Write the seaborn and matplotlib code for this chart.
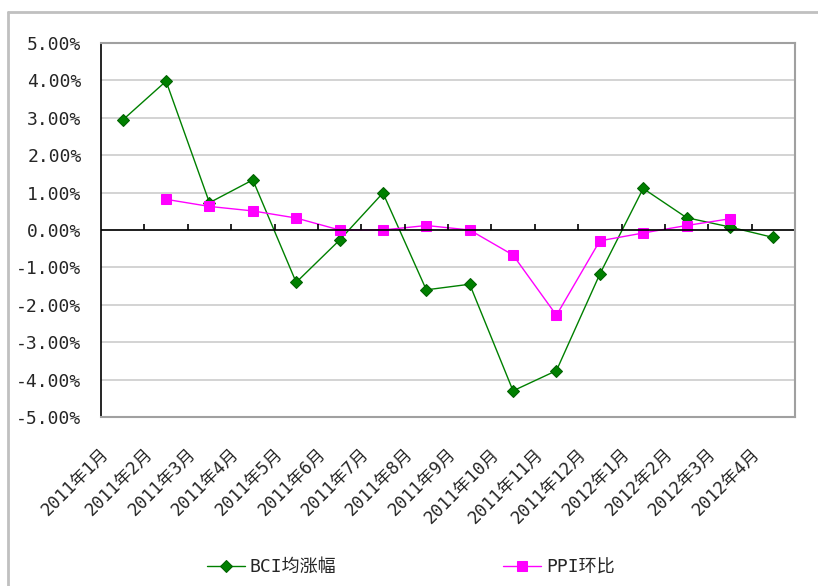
import numpy as np
import pandas as pd
import seaborn as sns
import matplotlib.pyplot as plt
import matplotlib.transforms as mtransforms
from matplotlib.lines import Line2D
from matplotlib.ticker import FuncFormatter

# ---- DATA ----
months = ["2011年1月", "2011年2月", "2011年3月", "2011年4月", "2011年5月", "2011年6月",
          "2011年7月", "2011年8月", "2011年9月", "2011年10月", "2011年11月", "2011年12月",
          "2012年1月", "2012年2月", "2012年3月", "2012年4月"]
bci = [2.94, 3.98, 0.73, 1.34, -1.40, -0.27, 0.99, -1.60, -1.45, -4.30, -3.76, -1.18,
       1.11, 0.33, 0.08, -0.20]
ppi = [np.nan, 0.82, 0.63, 0.51, 0.32, 0.0, 0.0, 0.12, 0.0, -0.67, -2.28, -0.29,
       -0.08, 0.12, 0.30, np.nan]

df = pd.DataFrame({"month": months, "BCI均涨幅": bci, "PPI环比": ppi})
df["pos"] = np.arange(len(df))

sns.set_style("white")
plt.rcParams["font.family"] = ["DejaVu Sans Mono", "Noto Sans CJK SC"]
plt.rcParams["font.size"] = 13

fig = plt.figure(figsize=(8.18, 5.86), dpi=100)
ax = fig.add_axes([101 / 818, 1 - 417 / 586, 694 / 818, 374 / 586])

# ---- LINES ----
sns.lineplot(data=df, x="pos", y="BCI均涨幅", color="#008000", marker="D", markersize=6,
             markeredgecolor="#006000", linewidth=1, label="BCI均涨幅", ax=ax)
sns.lineplot(data=df, x="pos", y="PPI环比", color="#ff00ff", marker="s", markersize=6.5,
             markeredgecolor="#ff00ff", linewidth=1, label="PPI环比", ax=ax)

# ---- AXES ----
ax.set_xlim(-0.5, len(months) - 0.5)
ax.set_ylim(-5, 5)
ax.set_yticks(np.arange(-5, 6, 1))
ax.yaxis.set_major_formatter(FuncFormatter(lambda v, p: f"{v:.2f}%"))
ax.tick_params(axis="y", direction="in", length=6, width=1, color="black", pad=14, labelsize=13)
ax.yaxis.grid(True, color="#cccccc", linewidth=1.2)
ax.set_axisbelow(True)

ax.set_xticks(df["pos"])
ax.set_xticklabels(months, rotation=45, ha="right", va="top", fontsize=12.5)
ax.tick_params(axis="x", length=0, pad=20)
offset = mtransforms.ScaledTranslation(-10 / 100, 0, fig.dpi_scale_trans)
for lab in ax.get_xticklabels():
    lab.set_transform(lab.get_transform() + offset)
ax.set_xlabel("")
ax.set_ylabel("")

for side in ["top", "right", "bottom"]:
    ax.spines[side].set_color("#a0a0a0")
    ax.spines[side].set_linewidth(1.5)
ax.spines["left"].set_color("black")
ax.spines["left"].set_linewidth(1.2)

# zero line with category boundary ticks
ax.axhline(0, color="black", linewidth=1.2, zorder=2)
ax.vlines(np.arange(0.5, len(months), 1), 0, 0.16, colors="black", linewidth=1.2, zorder=2)

# ---- LEGEND ----
handles, labels = ax.get_legend_handles_labels()
ax.get_legend().remove()
fig.legend(handles, labels, loc="center", bbox_to_anchor=(0.502, 0.032), ncol=2,
           frameon=False, fontsize=13, handlelength=2.1, handletextpad=0.3,
           columnspacing=9.2)

# outer chart border
fig.add_artist(Line2D([8 / 818, 1], [1 - 12 / 586, 1 - 12 / 586], color="#c0c0c0", linewidth=2))
fig.add_artist(Line2D([8 / 818, 8 / 818], [0, 1 - 12 / 586], color="#c0c0c0", linewidth=2))

fig.savefig("out.png", dpi=100)
